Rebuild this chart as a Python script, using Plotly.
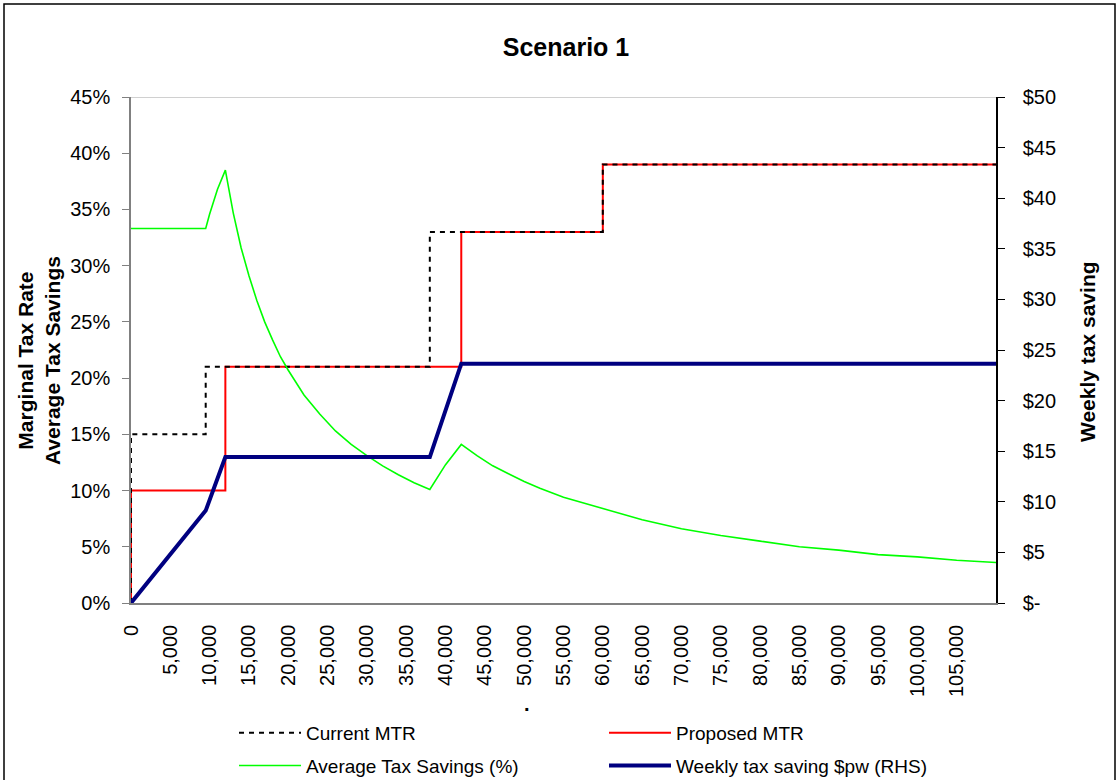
import plotly.graph_objects as go

# ---------------- data ----------------
# Marginal tax rate brackets (income thresholds, rate in %)
current_thresholds = [0, 9500, 38000, 60000]
current_rates = [15, 21, 33, 39]
proposed_thresholds = [0, 12000, 42000, 60000]
proposed_rates = [10, 21, 33, 39]
income_max = 110000

# Average tax savings (% of current tax) at sampled incomes
avg_income = [0, 9500, 10000, 11000, 12000, 13000, 14000, 15000, 16000, 17000,
              18000, 19000, 20000, 22000, 24000, 26000, 28000, 30000, 32000,
              34000, 36000, 38000, 40000, 42000, 44000, 46000, 48000, 50000,
              52000, 55000, 60000, 65000, 70000, 75000, 80000, 85000, 90000,
              95000, 100000, 105000, 110000]
avg_savings = [33.3, 33.3, 34.6, 36.8, 38.5, 34.7, 31.6, 29.1, 26.9, 25.0,
               23.4, 21.9, 20.7, 18.5, 16.8, 15.3, 14.1, 13.1, 12.2,
               11.4, 10.7, 10.1, 12.3, 14.1, 13.1, 12.2, 11.5, 10.8,
               10.2, 9.4, 8.4, 7.4, 6.6, 6.0, 5.5, 5.0, 4.7,
               4.3, 4.1, 3.8, 3.6]

# Weekly tax saving ($ per week, right-hand axis)
weekly_income = [0, 9500, 12000, 38000, 42000, 110000]
weekly_saving = [0, 9.13, 14.42, 14.42, 23.65, 23.65]

x_tickvals = list(range(0, 105001, 5000))
y_left_ticks = list(range(0, 46, 5))
y_left_labels = ["0%", "5%", "10%", "15%", "20%", "25%", "30%", "35%", "40%", "45%"]
y_right_ticks = list(range(0, 51, 5))
y_right_labels = ["$-", "$5", "$10", "$15", "$20", "$25", "$30", "$35", "$40", "$45", "$50"]

# ---------------- figure ----------------
W, H = 1119, 780
L, R, T, B = 131, 123, 97, 177
pw, ph = W - L - R, H - T - B


def px_x(px):
    return (px - L) / pw


def px_y(py):
    return (H - B - py) / ph


FONT = "Liberation Sans, Arial, sans-serif"

cur_x = [0] + current_thresholds + [income_max]
cur_y = [0] + current_rates + [current_rates[-1]]
pro_x = [0] + proposed_thresholds + [income_max]
pro_y = [0] + proposed_rates + [proposed_rates[-1]]

fig = go.Figure()
fig.add_trace(go.Scatter(x=pro_x, y=pro_y, mode="lines", line_shape="hv",
                         name="Proposed MTR", legend="legend2", legendgroup="b1",
                         line=dict(color="#FF0000", width=2)))
fig.add_trace(go.Scatter(x=cur_x, y=cur_y, mode="lines", line_shape="hv",
                         name="Current MTR", legend="legend", legendgroup="a1",
                         line=dict(color="#000000", width=2, dash="5px,5px")))
fig.add_trace(go.Scatter(x=avg_income, y=avg_savings, mode="lines",
                         name="Average Tax Savings (%)", legend="legend", legendgroup="a2",
                         line=dict(color="#00FF00", width=1.6)))
fig.add_trace(go.Scatter(x=weekly_income, y=weekly_saving, mode="lines", yaxis="y2",
                         name="Weekly tax saving $pw (RHS)", legend="legend2", legendgroup="b2",
                         line=dict(color="#000080", width=4)))

legend_common = dict(orientation="v", font=dict(family=FONT, size=19, color="#000"),
                     bgcolor="rgba(0,0,0,0)", borderwidth=0, itemwidth=62,
                     tracegroupgap=5, yanchor="top", xanchor="left")

fig.update_layout(
    width=W, height=H,
    margin=dict(l=L, r=R, t=T, b=B, autoexpand=False),
    paper_bgcolor="white", plot_bgcolor="white",
    font=dict(family=FONT, color="#000"),
    title=dict(text="<b>Scenario 1</b>", x=566 / W, xanchor="center",
               y=1 - 47 / H, yanchor="middle", yref="container",
               font=dict(family=FONT, size=25, color="#000")),
    xaxis=dict(range=[0, income_max], tickvals=x_tickvals, tickformat=",d",
               tickangle=-90, tickfont=dict(family=FONT, size=20),
               ticks="", ticklabelstandoff=12,
               showgrid=False, zeroline=False, showline=True,
               linecolor="#808080", linewidth=1.5),
    yaxis=dict(range=[0, 45], tickvals=y_left_ticks, ticktext=y_left_labels,
               tickfont=dict(family=FONT, size=20),
               ticks="outside", ticklen=7, tickcolor="#808080", tickwidth=1,
               ticklabelstandoff=8,
               showgrid=False, zeroline=False, showline=True,
               linecolor="#808080", linewidth=1.5),
    yaxis2=dict(range=[0, 50], tickvals=y_right_ticks, ticktext=y_right_labels,
                overlaying="y", side="right", anchor="x",
                tickfont=dict(family=FONT, size=20),
                ticks="outside", ticklen=7, tickcolor="#000", tickwidth=1,
                ticklabelstandoff=14,
                showgrid=False, zeroline=False, showline=True,
                linecolor="#000", linewidth=1.5),
    legend=dict(x=px_x(234), y=px_y(714), **legend_common),
    legend2=dict(x=px_x(604), y=px_y(714), **legend_common),
    showlegend=True,
)

# light top border of plot area (45% line)
fig.add_shape(type="line", xref="paper", yref="y", x0=0, x1=1, y0=45, y1=45,
              line=dict(color="#C0C0C0", width=1.5), layer="below")
# chart outer border
fig.add_shape(type="rect", xref="paper", yref="paper",
              x0=px_x(4), x1=px_x(1115), y0=px_y(800), y1=px_y(4),
              line=dict(color="#000", width=1.5), fillcolor="rgba(0,0,0,0)")

# axis titles
fig.add_annotation(text="<b>Marginal Tax Rate<br>Average Tax Savings</b>",
                   xref="paper", yref="paper", x=px_x(39), y=px_y(361),
                   xanchor="center", yanchor="middle", textangle=-90, showarrow=False,
                   font=dict(family=FONT, size=21, color="#000"))
fig.add_annotation(text="<b>Weekly tax saving</b>",
                   xref="paper", yref="paper", x=px_x(1087), y=px_y(352),
                   xanchor="center", yanchor="middle", textangle=-90, showarrow=False,
                   font=dict(family=FONT, size=21, color="#000"))
fig.add_annotation(text="<b>.</b>", xref="paper", yref="paper",
                   x=px_x(527), y=px_y(704), xanchor="center", yanchor="middle",
                   showarrow=False, font=dict(family=FONT, size=20, color="#000"))

fig.write_html("out.html", config={"displayModeBar": False},
               post_script="document.body.style.margin='0px';document.body.style.overflow='hidden';")
